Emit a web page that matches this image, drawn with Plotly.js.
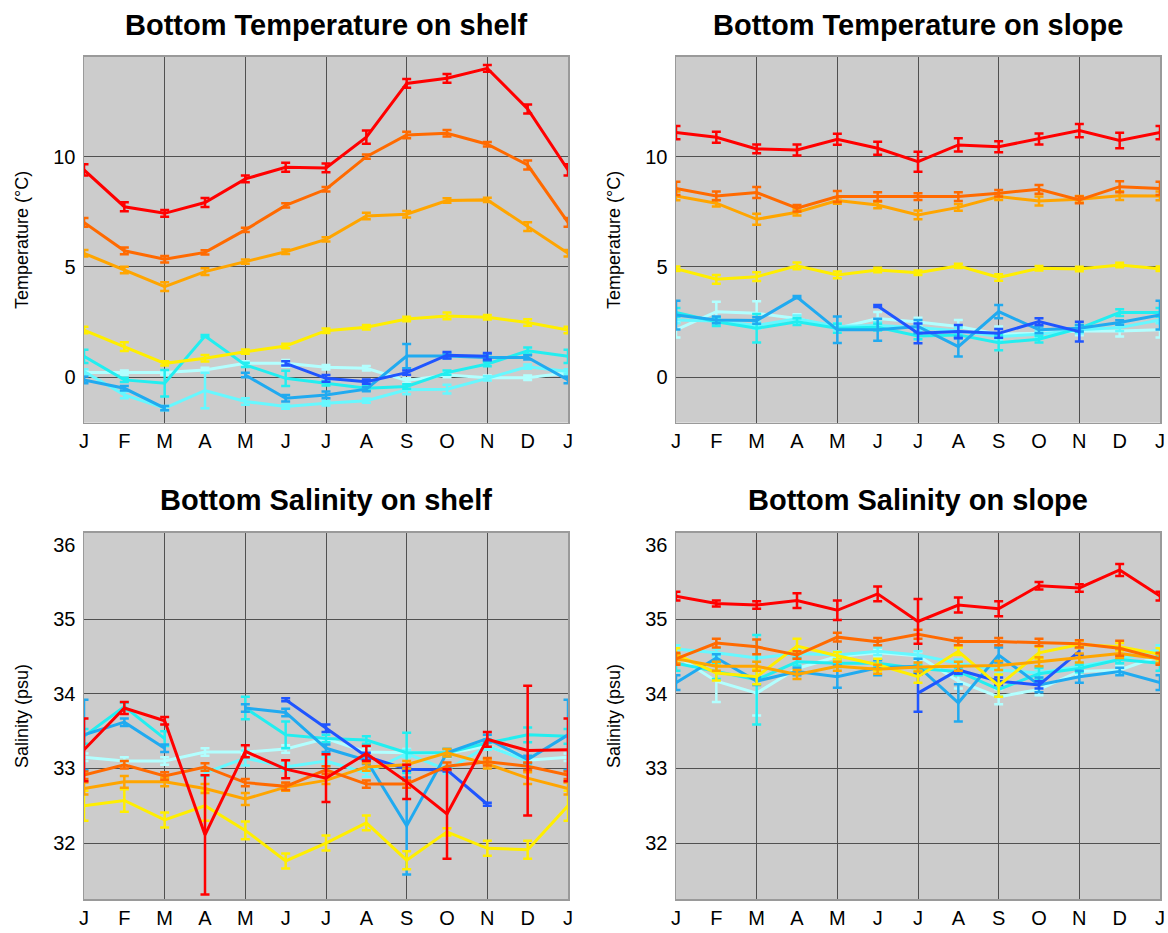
<!DOCTYPE html>
<html>
<head>
<meta charset="utf-8">
<script src="https://cdn.plot.ly/plotly-3.0.1.min.js"></script>
<style>
  html, body { margin: 0; padding: 0; background: #ffffff; }
  #chart { width: 1168px; height: 933px; }
</style>
</head>
<body>
<div id="chart"></div>
<script>
// Month axis: January to the following January
const monthLabels = ['J', 'F', 'M', 'A', 'M', 'J', 'J', 'A', 'S', 'O', 'N', 'D', 'J'];
const gridMonths = [2, 4, 6, 8, 10];

const tempTicks = [0, 5, 10];
const salTicks = [32, 33, 34, 35, 36];
const salGridTicks = [32, 33, 34, 35];

// Series colours, warm (shallow) to pale (deep)
const colRed = '#ff0000';
const colDarkOrange = '#ff6a00';
const colOrange = '#ffa500';
const colYellow = '#ffee00';
const colBlue = '#1f55ff';
const colMidBlue = '#20aaf0';
const colCyan = '#22eef0';
const colLightCyan = '#66f8ff';
const colPaleCyan = '#b2ffff';

// ---------- Bottom temperature on shelf (°C) ----------
const tShelfRed = [9.40, 7.73, 7.43, 7.92, 8.99, 9.52, 9.49, 10.88, 13.32, 13.55, 14.00, 12.16, 9.40];
const tShelfRedErr = [0.25, 0.2, 0.15, 0.2, 0.15, 0.2, 0.2, 0.3, 0.2, 0.2, 0.15, 0.2, 0.25];
const tShelfDarkOrange = [7.02, 5.73, 5.35, 5.66, 6.68, 7.79, 8.52, 10.00, 10.98, 11.06, 10.56, 9.62, 7.02];
const tShelfDarkOrangeErr = [0.2, 0.15, 0.15, 0.1, 0.1, 0.1, 0.1, 0.1, 0.15, 0.15, 0.1, 0.2, 0.2];
const tShelfOrange = [5.62, 4.86, 4.11, 4.79, 5.24, 5.69, 6.25, 7.31, 7.39, 8.01, 8.04, 6.83, 5.62];
const tShelfOrangeErr = [0.15, 0.15, 0.2, 0.15, 0.1, 0.1, 0.1, 0.15, 0.15, 0.1, 0.1, 0.2, 0.15];
const tShelfYellow = [2.14, 1.39, 0.63, 0.86, 1.16, 1.42, 2.11, 2.27, 2.64, 2.78, 2.72, 2.48, 2.14];
const tShelfYellowErr = [0.15, 0.2, 0.1, 0.15, 0.1, 0.1, 0.1, 0.1, 0.1, 0.15, 0.1, 0.15, 0.15];
const tShelfBlue = [null, null, null, null, null, 0.63, -0.05, -0.20, 0.21, 1.00, 0.95, null, null];
const tShelfBlueErr = [null, null, null, null, null, 0.1, 0.15, 0.1, 0.1, 0.15, 0.15, null, null];
const tShelfMidBlue = [-0.12, -0.50, -1.40, null, 0.10, -0.95, -0.80, -0.54, 0.96, 0.96, 0.90, 0.90, -0.12];
const tShelfMidBlueErr = [0.15, 0.1, 0.1, null, 0.1, 0.15, 0.15, 0.1, 0.55, 0.1, 0.15, 0.1, 0.15];
const tShelfCyan = [0.95, -0.12, -0.27, 1.87, 0.56, -0.05, -0.27, -0.50, -0.42, 0.21, 0.60, 1.20, 0.95];
const tShelfCyanErr = [0.3, 0.1, 0.6, 0.05, 0.1, 0.35, 0.1, 0.1, 0.1, 0.1, 0.1, 0.15, 0.3];
const tShelfLightCyan = [0.26, -0.80, -1.40, -0.60, -1.10, -1.33, -1.18, -1.06, -0.57, -0.54, -0.05, 0.48, 0.26];
const tShelfLightCyanErr = [0.1, 0.15, 0.1, 0.8, 0.15, 0.1, 0.1, 0.1, 0.2, 0.2, 0.1, 0.1, 0.1];
const tShelfPaleCyan = [0.21, 0.21, 0.21, 0.33, 0.63, 0.63, 0.45, 0.41, -0.15, 0.10, -0.02, -0.02, 0.21];
const tShelfPaleCyanErr = [0.1, 0.1, 0.1, 0.1, 0.1, 0.15, 0.1, 0.1, 0.1, 0.1, 0.1, 0.1, 0.1];

// ---------- Bottom temperature on slope (°C) ----------
const tSlopeRed = [11.09, 10.88, 10.35, 10.30, 10.79, 10.38, 9.77, 10.53, 10.45, 10.80, 11.18, 10.73, 11.09];
const tSlopeRedErr = [0.3, 0.25, 0.2, 0.25, 0.25, 0.3, 0.45, 0.3, 0.25, 0.25, 0.3, 0.35, 0.3];
const tSlopeDarkOrange = [8.56, 8.22, 8.37, 7.66, 8.19, 8.19, 8.19, 8.19, 8.34, 8.52, 8.04, 8.64, 8.56];
const tSlopeDarkOrangeErr = [0.3, 0.2, 0.25, 0.15, 0.25, 0.2, 0.15, 0.2, 0.15, 0.2, 0.15, 0.25, 0.3];
const tSlopeOrange = [8.22, 7.89, 7.16, 7.48, 8.01, 7.81, 7.36, 7.70, 8.19, 7.99, 8.07, 8.23, 8.22];
const tSlopeOrangeErr = [0.2, 0.15, 0.25, 0.15, 0.15, 0.15, 0.2, 0.15, 0.15, 0.2, 0.15, 0.2, 0.2];
const tSlopeYellow = [4.92, 4.44, 4.56, 5.05, 4.64, 4.86, 4.74, 5.05, 4.52, 4.94, 4.91, 5.09, 4.92];
const tSlopeYellowErr = [0.1, 0.2, 0.2, 0.15, 0.15, 0.1, 0.1, 0.1, 0.15, 0.1, 0.1, 0.1, 0.1];
const tSlopeBlue = [null, null, null, null, null, 3.23, 1.99, 2.07, 1.99, 2.52, 2.07, null, null];
const tSlopeBlueErr = [null, null, null, null, null, 0.05, 0.45, 0.3, 0.2, 0.15, 0.45, null, null];
const tSlopeMidBlue = [2.82, 2.60, 2.57, 3.63, 2.15, 2.15, 2.30, 1.39, 2.98, 2.15, 2.22, 2.48, 2.82];
const tSlopeMidBlueErr = [0.65, 0.15, 0.15, 0.05, 0.6, 0.5, 0.3, 0.45, 0.3, 0.15, 0.15, 0.1, 0.65];
const tSlopeCyan = [2.94, 2.52, 2.22, 2.52, 2.22, 2.27, 1.87, 1.92, 1.57, 1.72, 2.22, 2.93, 2.94];
const tSlopeCyanErr = [0.2, 0.2, 0.65, 0.15, 0.2, 0.15, 0.15, 0.15, 0.35, 0.15, 0.15, 0.15, 0.2];
const tSlopeLightCyan = [2.60, 2.55, 2.35, 2.65, 2.30, 2.35, 2.25, 2.10, 1.85, 1.95, 2.15, 2.25, 2.60];
const tSlopeLightCyanErr = [0.15, 0.15, 0.15, 0.15, 0.15, 0.15, 0.15, 0.15, 0.15, 0.15, 0.15, 0.15, 0.15];
const tSlopePaleCyan = [2.15, 2.97, 2.90, 2.66, 2.22, 2.66, 2.50, 2.30, 1.95, 2.00, 2.10, 2.10, 2.15];
const tSlopePaleCyanErr = [0.35, 0.45, 0.55, 0.2, 0.2, 0.3, 0.2, 0.3, 0.35, 0.2, 0.2, 0.25, 0.35];

// ---------- Bottom salinity on shelf (psu) ----------
const sShelfRed = [33.25, 33.81, 33.64, 32.11, 33.23, 32.99, 32.87, 33.20, 32.82, 32.39, 33.39, 33.24, 33.25];
const sShelfRedErr = [0.42, 0.08, 0.05, 0.8, 0.08, 0.12, 0.32, 0.1, 0.23, 0.6, 0.1, 0.87, 0.42];
const sShelfDarkOrange = [32.91, 33.05, 32.90, 33.02, 32.81, 32.76, 32.98, 32.79, 32.79, 33.03, 33.09, 33.03, 32.91];
const sShelfDarkOrangeErr = [0.05, 0.05, 0.05, 0.05, 0.05, 0.05, 0.05, 0.05, 0.05, 0.05, 0.05, 0.05, 0.05];
const sShelfOrange = [32.73, 32.82, 32.82, 32.73, 32.59, 32.75, 32.84, 33.02, 33.05, 33.21, 33.06, 32.87, 32.73];
const sShelfOrangeErr = [0.08, 0.08, 0.06, 0.06, 0.08, 0.05, 0.05, 0.05, 0.05, 0.05, 0.06, 0.08, 0.08];
const sShelfYellow = [32.50, 32.57, 32.31, 32.50, 32.17, 31.76, 32.00, 32.27, 31.77, 32.15, 31.93, 31.91, 32.50];
const sShelfYellowErr = [0.2, 0.15, 0.1, 0.2, 0.12, 0.1, 0.1, 0.1, 0.12, 0.05, 0.1, 0.12, 0.2];
const sShelfBlue = [null, null, null, null, null, 33.92, 33.54, 33.16, 32.99, 32.98, 32.52, null, null];
const sShelfBlueErr = [null, null, null, null, null, 0.02, 0.05, 0.05, 0.02, 0.02, 0.02, null, null];
const sShelfMidBlue = [33.45, 33.62, 33.27, null, 33.81, 33.75, 33.27, 33.11, 32.23, 33.21, 33.40, 33.12, 33.45];
const sShelfMidBlueErr = [0.47, 0.05, 0.05, null, 0.05, 0.05, 0.05, 0.05, 0.65, 0.05, 0.05, 0.05, 0.47];
const sShelfCyan = [33.43, 33.83, 33.40, null, 33.81, 33.45, 33.40, 33.38, 33.21, 33.21, 33.34, 33.45, 33.43];
const sShelfCyanErr = [0.1, 0.05, 0.1, null, 0.15, 0.18, 0.05, 0.05, 0.27, 0.05, 0.05, 0.1, 0.1];
const sShelfLightCyan = [null, null, null, 32.94, 33.14, 33.02, 33.10, 32.94, 33.20, 32.98, 33.30, 33.10, null];
const sShelfLightCyanErr = [null, null, null, 0.05, 0.1, 0.05, 0.05, 0.05, 0.05, 0.05, 0.05, 0.05, null];
const sShelfPaleCyan = [33.15, 33.10, 33.10, 33.22, 33.22, 33.26, 33.40, 33.22, 33.21, 33.20, 33.30, 33.11, 33.15];
const sShelfPaleCyanErr = [0.05, 0.05, 0.05, 0.05, 0.03, 0.05, 0.05, 0.05, 0.05, 0.05, 0.05, 0.05, 0.05];

// ---------- Bottom salinity on slope (psu) ----------
const sSlopeRed = [35.31, 35.21, 35.19, 35.25, 35.12, 35.34, 34.97, 35.19, 35.14, 35.45, 35.42, 35.66, 35.31];
const sSlopeRedErr = [0.06, 0.04, 0.05, 0.1, 0.13, 0.1, 0.3, 0.1, 0.1, 0.05, 0.05, 0.08, 0.06];
const sSlopeDarkOrange = [34.47, 34.68, 34.63, 34.52, 34.76, 34.70, 34.80, 34.70, 34.70, 34.69, 34.67, 34.61, 34.47];
const sSlopeDarkOrangeErr = [0.08, 0.06, 0.1, 0.05, 0.06, 0.05, 0.06, 0.05, 0.05, 0.05, 0.05, 0.1, 0.08];
const sSlopeOrange = [34.47, 34.37, 34.37, 34.26, 34.37, 34.33, 34.36, 34.37, 34.38, 34.43, 34.48, 34.54, 34.47];
const sSlopeOrangeErr = [0.06, 0.06, 0.06, 0.06, 0.06, 0.06, 0.06, 0.06, 0.06, 0.06, 0.06, 0.06, 0.06];
const sSlopeYellow = [34.53, 34.28, 34.23, 34.64, 34.51, 34.39, 34.23, 34.57, 34.11, 34.55, 34.66, 34.63, 34.53];
const sSlopeYellowErr = [0.08, 0.1, 0.1, 0.1, 0.05, 0.08, 0.08, 0.05, 0.15, 0.08, 0.05, 0.05, 0.08];
const sSlopeBlue = [null, null, null, null, null, null, 34.01, 34.32, 34.17, 34.12, 34.57, null, null];
const sSlopeBlueErr = [null, null, null, null, null, null, 0.25, 0.05, 0.05, 0.05, 0.05, null, null];
const sSlopeMidBlue = [34.15, 34.48, 34.17, 34.30, 34.23, 34.35, 34.37, 33.88, 34.52, 34.12, 34.23, 34.30, 34.15];
const sSlopeMidBlueErr = [0.1, 0.05, 0.05, 0.05, 0.15, 0.1, 0.1, 0.25, 0.1, 0.1, 0.08, 0.05, 0.1];
const sSlopeCyan = [34.41, 34.30, 34.19, 34.43, 34.41, 34.41, 34.34, 34.30, 34.06, 34.27, 34.34, 34.46, 34.41];
const sSlopeCyanErr = [0.1, 0.1, 0.6, 0.05, 0.05, 0.05, 0.05, 0.05, 0.1, 0.08, 0.05, 0.05, 0.1];
const sSlopeLightCyan = [34.60, 34.55, 34.48, 34.54, 34.52, 34.57, 34.52, 34.41, 34.32, 34.28, 34.37, 34.46, 34.60];
const sSlopeLightCyanErr = [0.05, 0.05, 0.05, 0.05, 0.05, 0.05, 0.05, 0.05, 0.05, 0.05, 0.05, 0.05, 0.05];
const sSlopePaleCyan = [34.51, 34.17, 34.01, 34.34, 34.50, 34.55, 34.51, 34.17, 33.96, 34.06, 34.30, 34.32, 34.51];
const sSlopePaleCyanErr = [0.05, 0.28, 0.3, 0.05, 0.05, 0.05, 0.05, 0.1, 0.1, 0.08, 0.05, 0.05, 0.05];

const monthPos = monthLabels.map((_, i) => i);

function seriesTrace(values, errors, color, xa, ya) {
  return {
    type: 'scatter',
    mode: 'lines',
    x: monthPos,
    y: values,
    xaxis: xa,
    yaxis: ya,
    connectgaps: false,
    line: { color: color, width: 3 },
    error_y: { type: 'data', array: errors, visible: true, color: color, thickness: 2.5, width: 4.5 },
    hoverinfo: 'skip',
    showlegend: false
  };
}

// Each panel: pale/deep series drawn first, warm series last (on top)
function panelTraces(set, xa, ya) {
  return [
    seriesTrace(set.pale[0], set.pale[1], colPaleCyan, xa, ya),
    seriesTrace(set.light[0], set.light[1], colLightCyan, xa, ya),
    seriesTrace(set.cyan[0], set.cyan[1], colCyan, xa, ya),
    seriesTrace(set.mid[0], set.mid[1], colMidBlue, xa, ya),
    seriesTrace(set.blue[0], set.blue[1], colBlue, xa, ya),
    seriesTrace(set.yellow[0], set.yellow[1], colYellow, xa, ya),
    seriesTrace(set.orange[0], set.orange[1], colOrange, xa, ya),
    seriesTrace(set.darkOrange[0], set.darkOrange[1], colDarkOrange, xa, ya),
    seriesTrace(set.red[0], set.red[1], colRed, xa, ya)
  ];
}

const traces = [].concat(
  panelTraces({
    pale: [tShelfPaleCyan, tShelfPaleCyanErr], light: [tShelfLightCyan, tShelfLightCyanErr],
    cyan: [tShelfCyan, tShelfCyanErr], mid: [tShelfMidBlue, tShelfMidBlueErr], blue: [tShelfBlue, tShelfBlueErr],
    yellow: [tShelfYellow, tShelfYellowErr], orange: [tShelfOrange, tShelfOrangeErr],
    darkOrange: [tShelfDarkOrange, tShelfDarkOrangeErr], red: [tShelfRed, tShelfRedErr]
  }, 'x', 'y'),
  panelTraces({
    pale: [tSlopePaleCyan, tSlopePaleCyanErr], light: [tSlopeLightCyan, tSlopeLightCyanErr],
    cyan: [tSlopeCyan, tSlopeCyanErr], mid: [tSlopeMidBlue, tSlopeMidBlueErr], blue: [tSlopeBlue, tSlopeBlueErr],
    yellow: [tSlopeYellow, tSlopeYellowErr], orange: [tSlopeOrange, tSlopeOrangeErr],
    darkOrange: [tSlopeDarkOrange, tSlopeDarkOrangeErr], red: [tSlopeRed, tSlopeRedErr]
  }, 'x2', 'y2'),
  panelTraces({
    pale: [sShelfPaleCyan, sShelfPaleCyanErr], light: [sShelfLightCyan, sShelfLightCyanErr],
    cyan: [sShelfCyan, sShelfCyanErr], mid: [sShelfMidBlue, sShelfMidBlueErr], blue: [sShelfBlue, sShelfBlueErr],
    yellow: [sShelfYellow, sShelfYellowErr], orange: [sShelfOrange, sShelfOrangeErr],
    darkOrange: [sShelfDarkOrange, sShelfDarkOrangeErr], red: [sShelfRed, sShelfRedErr]
  }, 'x3', 'y3'),
  panelTraces({
    pale: [sSlopePaleCyan, sSlopePaleCyanErr], light: [sSlopeLightCyan, sSlopeLightCyanErr],
    cyan: [sSlopeCyan, sSlopeCyanErr], mid: [sSlopeMidBlue, sSlopeMidBlueErr], blue: [sSlopeBlue, sSlopeBlueErr],
    yellow: [sSlopeYellow, sSlopeYellowErr], orange: [sSlopeOrange, sSlopeOrangeErr],
    darkOrange: [sSlopeDarkOrange, sSlopeDarkOrangeErr], red: [sSlopeRed, sSlopeRedErr]
  }, 'x4', 'y4')
);

// empty traces that register the grid-only overlay axes
[['x5', 'y'], ['x6', 'y2'], ['x7', 'y3'], ['x8', 'y4'], ['x3', 'y9'], ['x4', 'y10']].forEach(([xa, ya]) => {
  traces.push({ type: 'scatter', mode: 'lines', x: [], y: [], xaxis: xa, yaxis: ya, hoverinfo: 'skip', showlegend: false });
});

const W = 1168, H = 933;
const FONT = 'Liberation Sans, Arial, Helvetica, sans-serif';
const gridColor = '#505050';
const frameColor = '#9a9a9a';

const leftDom = [84 / W, 568 / W];
const rightDom = [676 / W, 1160 / W];
const topDom = [1 - 422.7 / H, 1 - 56.7 / H];
const botDom = [1 - 899 / H, 1 - 532.7 / H];

function monthAxis(domain, anchor) {
  return {
    domain: domain, anchor: anchor, range: [0, 12],
    tickmode: 'array', tickvals: monthPos, ticktext: monthLabels,
    showgrid: false, zeroline: false,
    showline: true, mirror: true, linecolor: frameColor, linewidth: 1.5,
    ticks: '', tickfont: { family: FONT, size: 20, color: '#000' },
    fixedrange: true
  };
}
function gridAxis(over, anchor) {
  return {
    overlaying: over, anchor: anchor, range: [0, 12],
    tickmode: 'array', tickvals: gridMonths,
    showgrid: true, gridcolor: gridColor, gridwidth: 1,
    showticklabels: false, zeroline: false, showline: false, ticks: '',
    fixedrange: true
  };
}
function valueAxis(domain, anchor, range, ticks, withGrid) {
  return {
    domain: domain, anchor: anchor, range: range,
    tickmode: 'array', tickvals: ticks,
    showgrid: withGrid, gridcolor: gridColor, gridwidth: 1,
    zeroline: false, showline: true, mirror: true, linecolor: frameColor, linewidth: 1.5,
    ticks: '', ticklabelstandoff: 3, tickfont: { family: FONT, size: 20, color: '#000' },
    fixedrange: true
  };
}
function valueGridAxis(over, anchor, range, ticks) {
  return {
    overlaying: over, anchor: anchor, range: range,
    tickmode: 'array', tickvals: ticks,
    showgrid: true, gridcolor: gridColor, gridwidth: 1,
    showticklabels: false, zeroline: false, showline: false, ticks: '',
    fixedrange: true
  };
}

const tempRange = [-2.06, 14.53];
const salRange = [31.25, 36.16];

function titleNote(text, xPix, yPix) {
  return {
    text: '<b>' + text + '</b>', xref: 'paper', yref: 'paper',
    x: xPix / W, y: 1 - yPix / H, xanchor: 'center', yanchor: 'middle',
    showarrow: false, font: { family: FONT, size: 29, color: '#000' }
  };
}
function yTitleNote(text, xPix, yPix) {
  return {
    text: text, xref: 'paper', yref: 'paper', textangle: -90,
    x: xPix / W, y: 1 - yPix / H, xanchor: 'center', yanchor: 'middle',
    showarrow: false, font: { family: FONT, size: 18, color: '#000' }
  };
}

const layout = {
  width: W, height: H,
  margin: { l: 0, r: 0, t: 0, b: 0 },
  paper_bgcolor: '#ffffff',
  plot_bgcolor: '#cccccc',
  showlegend: false,
  font: { family: FONT, color: '#000' },
  xaxis: monthAxis(leftDom, 'y'),
  yaxis: valueAxis(topDom, 'x', tempRange, tempTicks, true),
  xaxis2: monthAxis(rightDom, 'y2'),
  yaxis2: valueAxis(topDom, 'x2', tempRange, tempTicks, true),
  xaxis3: monthAxis(leftDom, 'y3'),
  yaxis3: valueAxis(botDom, 'x3', salRange, salTicks, false),
  xaxis4: monthAxis(rightDom, 'y4'),
  yaxis4: valueAxis(botDom, 'x4', salRange, salTicks, false),
  xaxis5: gridAxis('x', 'y'),
  xaxis6: gridAxis('x2', 'y2'),
  xaxis7: gridAxis('x3', 'y3'),
  xaxis8: gridAxis('x4', 'y4'),
  yaxis9: valueGridAxis('y3', 'x3', salRange, salGridTicks),
  yaxis10: valueGridAxis('y4', 'x4', salRange, salGridTicks),
  annotations: [
    titleNote('Bottom Temperature on shelf', 326, 25),
    titleNote('Bottom Temperature on slope', 918, 25),
    titleNote('Bottom Salinity on shelf', 326, 500),
    titleNote('Bottom Salinity on slope', 918, 500),
    yTitleNote('Temperature (°C)', 22, 240),
    yTitleNote('Temperature (°C)', 614, 240),
    yTitleNote('Salinity (psu)', 22, 716),
    yTitleNote('Salinity (psu)', 614, 716)
  ]
};

Plotly.newPlot('chart', traces, layout, { staticPlot: true, displayModeBar: false });
</script>
</body>
</html>
